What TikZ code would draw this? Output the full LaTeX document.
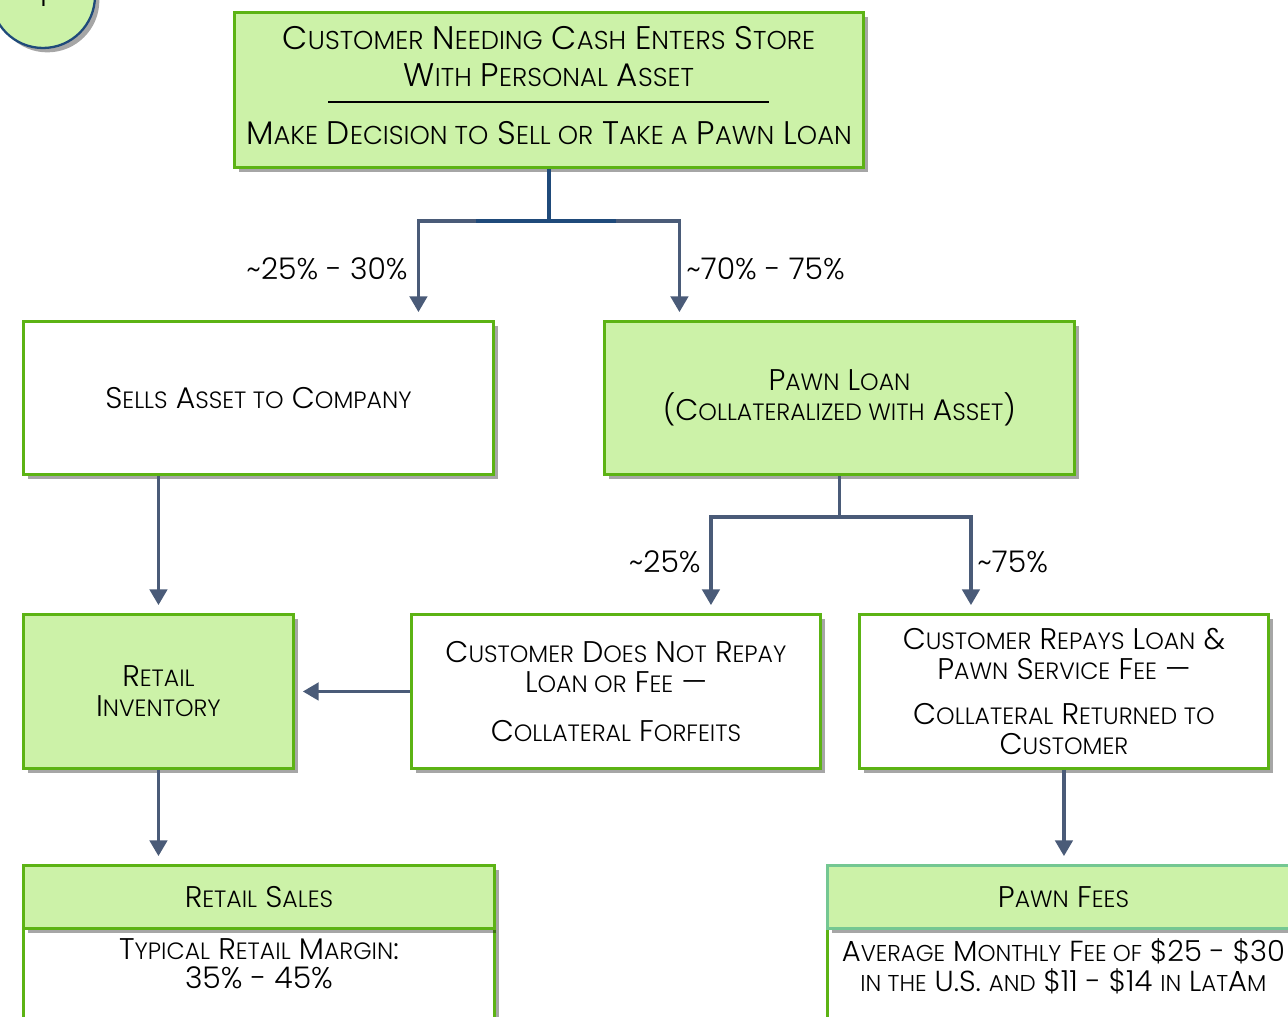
\documentclass[tikz,border=0pt]{standalone}
\usepackage{fontspec}
\setmainfont{Poppins}[UprightFont={* Light}]
\usetikzlibrary{shadows,arrows.meta,calc}

\definecolor{boxfill}{HTML}{CCF2A8}
\definecolor{boxline}{HTML}{5CB314}
\definecolor{feeline}{HTML}{74C792}
\definecolor{flowline}{HTML}{4A5B78}
\definecolor{navyline}{HTML}{1F4A7A}

\newcommand\boxfont{\fontsize{17pt}{17pt}\selectfont}
\newcommand\topfont{\fontsize{18.6pt}{21pt}\selectfont}
\newcommand\feefont{\fontsize{16.5pt}{17.5pt}\selectfont}
\newcommand\sml[1]{{\fontsize{0.79em}{17pt}\selectfont\MakeUppercase{#1}}}

\tikzset{
  greenbox/.style = {shape=rectangle, draw=boxline, line width=1.7pt,
                     fill=boxfill, align=center, anchor=north west,
                     inner sep=0pt, font=\boxfont,
                     drop shadow={shadow xshift=2.5pt, shadow yshift=-2.5pt,
                                  opacity=0.35, fill=black}},
  whitebox/.style = {greenbox, fill=white},
  headbox/.style  = {greenbox, minimum height=1.26cm},
  bodybox/.style  = {whitebox, minimum height=2.4cm, text depth=2cm,
                     inner ysep=5.5pt},
  flow/.style     = {draw=flowline, line width=1.8pt,
                     -{Triangle[length=9pt,width=10pt]}, shorten >=4.5pt},
  stem/.style     = {draw=navyline, line width=1.8pt},
  pct/.style      = {font=\boxfont, inner sep=0pt},
  badge/.style    = {circle, draw=navyline, line width=1.3pt, fill=boxfill,
                     minimum size=2.08cm, font=\boxfont,
                     drop shadow={shadow xshift=2.5pt, shadow yshift=-2.5pt,
                                  opacity=0.35, fill=black}}
}

\begin{document}
\begin{tikzpicture}[x=0.02cm, y=-0.02cm]
\useasboundingbox (0,0) rectangle (1288,1017);
\clip (0,0) rectangle (1288,1017);

\node[badge] (badge) at (43,-4) {1};

% decision
\node[greenbox, font=\topfont, text depth=4.7pt, minimum width=12.58cm, minimum height=3.1cm] (top) at (233,11)
  {C\sml{ustomer} N\sml{eeding} C\sml{ash} E\sml{nters} S\sml{tore}\\
   W\sml{ith} P\sml{ersonal} A\sml{sset}\\[-12pt]
   \rule{8.82cm}{1.2pt}\\[3pt]
   M\sml{ake} D\sml{ecision to} S\sml{ell or} T\sml{ake a} P\sml{awn} L\sml{oan}};

\node[whitebox, minimum width=9.4cm, minimum height=3.06cm] (sells) at (22,320)
  {S\sml{ells} A\sml{sset to} C\sml{ompany}};
\node[greenbox, minimum width=9.4cm, minimum height=3.06cm] (pawn) at (603,320)
  {P\sml{awn} L\sml{oan}\\(C\sml{ollateralized with} A\sml{sset})};

% second row
\node[greenbox, minimum width=5.4cm, minimum height=3.08cm] (inventory) at (22,613)
  {R\sml{etail}\\I\sml{nventory}};
\node[whitebox, minimum width=8.18cm, minimum height=3.08cm] (notrepay) at (410,613)
  {C\sml{ustomer} D\sml{oes} N\sml{ot} R\sml{epay}\\L\sml{oan or} F\sml{ee} —\\[11pt]
   C\sml{ollateral} F\sml{orfeits}};
\node[whitebox, minimum width=8.18cm, minimum height=3.08cm] (repays) at (858,613)
  {C\sml{ustomer} R\sml{epays} L\sml{oan} \&\\P\sml{awn} S\sml{ervice} F\sml{ee} —\\[8.5pt]
   C\sml{ollateral} R\sml{eturned to}\\C\sml{ustomer}};

% results
\node[bodybox, minimum width=9.42cm] (salesbody) at (22,927)
  {T\sml{ypical} R\sml{etail} M\sml{argin}:\\35\% - 45\%};
\node[headbox, minimum width=9.42cm] (saleshead) at (22,864)
  {R\sml{etail} S\sml{ales}};
\node[bodybox, font=\feefont, minimum width=9.44cm] (feesbody) at (826,927)
  {A\sml{verage} M\sml{onthly} F\sml{ee of} \$25 - \$30\\
   \sml{in the} U.S. \sml{and} \$11 - \$14 \sml{in} L\sml{at}A\sml{m}};
\node[headbox, draw=feeline, minimum width=9.44cm] (feeshead) at (826,864)
  {P\sml{awn} F\sml{ees}};

% connectors
\coordinate (jtop) at ($(top.south)+(0,52)$);
\draw[flow] (jtop) -| ($(sells.north)+(160,0)$);
\draw[flow] (jtop) -| ($(pawn.north)+(-160,0)$);
\draw[stem] (top.south) -- (jtop);
\draw[stem] ($(jtop)+(-73,0)$) -- ($(jtop)+(67,0)$);

\coordinate (jpawn) at ($(pawn.south)+(0,41)$);
\draw[flowline, line width=1.8pt] (pawn.south) -- (jpawn);
\draw[flow] (jpawn) -| ($(notrepay.north)+(95,0)$);
\draw[flow] (jpawn) -| ($(repays.north)+(-93,0)$);

\draw[flow] (sells.south -| inventory.north) -- (inventory.north);
\draw[flow] (notrepay.west) -- (inventory.east);
\draw[flow] (inventory.south) -- (inventory.south |- saleshead.north);
\draw[flow] (repays.south) -- (repays.south |- feeshead.north);

% shares
\node[pct, anchor=east] (shsell) at (408,269) {\textasciitilde25\% - 30\%};
\node[pct, anchor=west] (shpawn) at (686,269) {\textasciitilde70\% - 75\%};
\node[pct, anchor=east] (shforf) at (701,562) {\textasciitilde25\%};
\node[pct, anchor=west] (shrepay) at (977,562) {\textasciitilde75\%};
\end{tikzpicture}
\end{document}
